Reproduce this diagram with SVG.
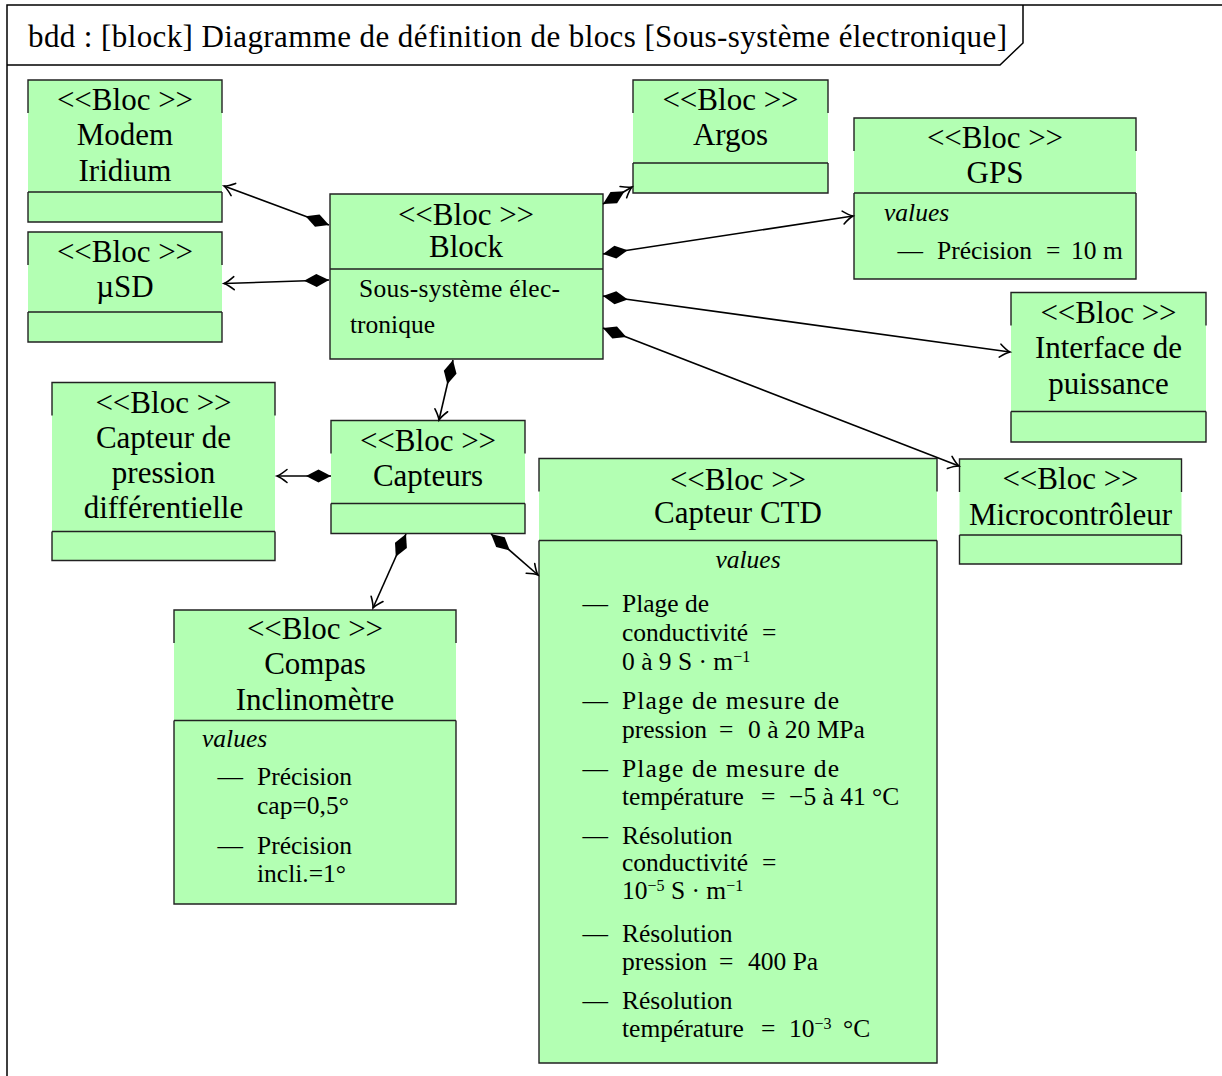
<svg xmlns="http://www.w3.org/2000/svg" width="1222" height="1076" viewBox="0 0 1222 1076">
<defs>
<style>
.fr{fill:none;stroke:#000;stroke-width:1.5}
.bg{fill:#b3ffb3;stroke:none}
.bd{fill:none;stroke:#222;stroke-width:1.4}
.t{font-family:"Liberation Serif",serif;font-size:31px;fill:#000;text-anchor:middle}
.a{font-family:"Liberation Serif",serif;font-size:25.5px;fill:#000}
.i{font-family:"Liberation Serif",serif;font-size:25.5px;font-style:italic;fill:#000}
.d{font-family:"Liberation Serif",serif;font-size:25.5px;fill:#000;text-anchor:end}
.sup{font-size:16px}
.c{fill:none;stroke:#000;stroke-width:1.6}
</style>
<marker id="dia" markerUnits="userSpaceOnUse" orient="auto" refX="0" refY="0" markerWidth="30" markerHeight="16" overflow="visible">
<path d="M0,0 L12.5,-6.5 L25,0 L12.5,6.5 Z" fill="#000"/>
</marker>
<marker id="arr" markerUnits="userSpaceOnUse" orient="auto" refX="0" refY="0" markerWidth="14" markerHeight="16" overflow="visible">
<path d="M-10,-6.5 Q-4,-1.5 0,0 Q-4,1.5 -10,6.5" fill="none" stroke="#000" stroke-width="1.6" stroke-linecap="round"/>
</marker>
</defs>
<rect x="0" y="0" width="1222" height="1076" fill="#fff"/>

<g id="frame">
<path class="fr" d="M7,1076 V5 H1222"/>
<path class="fr" d="M7,65 H1000 L1023,43 V5"/>
<text class="a" x="28" y="47" style="font-size:31px" textLength="979" lengthAdjust="spacing">bdd : [block] Diagramme de définition de blocs [Sous-système électronique]</text>
</g>

<g id="modem">
<rect class="bg" x="28" y="80" width="194" height="142"/>
<path class="bd" d="M28,113 V80 H222 V113 M28,192 H222 M28,192 V222 H222 V192"/>
<text class="t" x="125" y="109.5">&lt;&lt;Bloc &gt;&gt;</text>
<text class="t" x="125" y="145">Modem</text>
<text class="t" x="125" y="180.5">Iridium</text>
</g>

<g id="usd">
<rect class="bg" x="28" y="232" width="194" height="110"/>
<path class="bd" d="M28,265 V232 H222 V265 M28,312 H222 M28,312 V342 H222 V312"/>
<text class="t" x="125" y="262">&lt;&lt;Bloc &gt;&gt;</text>
<text class="t" x="125" y="297">µSD</text>
</g>

<g id="block">
<rect class="bg" x="330" y="194" width="273" height="165"/>
<path class="bd" d="M330,194 H603 V359 H330 Z M330,269 H603"/>
<text class="t" x="466" y="225">&lt;&lt;Bloc &gt;&gt;</text>
<text class="t" x="466" y="257">Block</text>
<text class="a" x="359" y="297" textLength="201" lengthAdjust="spacing">Sous-système élec-</text>
<text class="a" x="350" y="333">tronique</text>
</g>

<g id="argos">
<rect class="bg" x="633" y="80" width="195" height="113"/>
<path class="bd" d="M633,113 V80 H828 V113 M633,163 H828 M633,163 V193 H828 V163"/>
<text class="t" x="730.5" y="109.5">&lt;&lt;Bloc &gt;&gt;</text>
<text class="t" x="730.5" y="145">Argos</text>
</g>

<g id="gps">
<rect class="bg" x="854" y="118" width="282" height="161"/>
<path class="bd" d="M854,151 V118 H1136 V151 M854,193 H1136 M854,193 V279 H1136 V193"/>
<text class="t" x="995" y="148">&lt;&lt;Bloc &gt;&gt;</text>
<text class="t" x="995" y="183">GPS</text>
<text class="i" x="884" y="221">values</text>
<text class="d" x="923" y="259">—</text>
<text class="a" x="937" y="259">Précision<tspan x="1046">=</tspan><tspan x="1071">10 m</tspan></text>
</g>

<g id="interface">
<rect class="bg" x="1011" y="292.5" width="195" height="149.5"/>
<path class="bd" d="M1011,325.5 V292.5 H1206 V325.5 M1011,411.5 H1206 M1011,411.5 V442 H1206 V411.5"/>
<text class="t" x="1108.5" y="322.5">&lt;&lt;Bloc &gt;&gt;</text>
<text class="t" x="1108.5" y="358">Interface de</text>
<text class="t" x="1108.5" y="393.5">puissance</text>
</g>

<g id="micro">
<rect class="bg" x="959.5" y="459" width="222" height="105"/>
<path class="bd" d="M959.5,492 V459 H1181.5 V492 M959.5,535 H1181.5 M959.5,535 V564 H1181.5 V535"/>
<text class="t" x="1070.5" y="489">&lt;&lt;Bloc &gt;&gt;</text>
<text class="t" x="1070.5" y="524.5">Microcontrôleur</text>
</g>

<g id="pression">
<rect class="bg" x="52" y="382.5" width="223" height="178"/>
<path class="bd" d="M52,415.5 V382.5 H275 V415.5 M52,531.5 H275 M52,531.5 V560.5 H275 V531.5"/>
<text class="t" x="163.5" y="413">&lt;&lt;Bloc &gt;&gt;</text>
<text class="t" x="163.5" y="448">Capteur de</text>
<text class="t" x="163.5" y="483">pression</text>
<text class="t" x="163.5" y="518">différentielle</text>
</g>

<g id="capteurs">
<rect class="bg" x="331" y="420.5" width="194" height="113"/>
<path class="bd" d="M331,453.5 V420.5 H525 V453.5 M331,503.5 H525 M331,503.5 V533.5 H525 V503.5"/>
<text class="t" x="428" y="451">&lt;&lt;Bloc &gt;&gt;</text>
<text class="t" x="428" y="486">Capteurs</text>
</g>

<g id="ctd">
<rect class="bg" x="539" y="458.5" width="398" height="604.5"/>
<path class="bd" d="M539,491.5 V458.5 H937 V491.5 M539,540.5 H937 M539,540.5 V1063 H937 V540.5"/>
<text class="t" x="738" y="490">&lt;&lt;Bloc &gt;&gt;</text>
<text class="t" x="738" y="523">Capteur CTD</text>
<text class="i" x="748" y="568" text-anchor="middle">values</text>
<text class="d" x="608" y="611.5">—</text>
<text class="a" x="622" y="611.5">Plage de</text>
<text class="a" x="622" y="640.5">conductivité<tspan x="762">=</tspan></text>
<text class="a" x="622" y="669.5">0 à 9 S · m<tspan class="sup" dy="-8">−1</tspan></text>
<text class="d" x="608" y="708.5">—</text>
<text class="a" x="622" y="708.5" textLength="217" lengthAdjust="spacing">Plage de mesure de</text>
<text class="a" x="622" y="737.5">pression<tspan x="719">=</tspan><tspan x="748">0 à 20 MPa</tspan></text>
<text class="d" x="608" y="776.5">—</text>
<text class="a" x="622" y="776.5" textLength="217" lengthAdjust="spacing">Plage de mesure de</text>
<text class="a" x="622" y="805">température<tspan x="761">=</tspan><tspan x="789">−5 à 41 °C</tspan></text>
<text class="d" x="608" y="843.5">—</text>
<text class="a" x="622" y="843.5">Résolution</text>
<text class="a" x="622" y="870.5">conductivité<tspan x="762">=</tspan></text>
<text class="a" x="622" y="899">10<tspan class="sup" dy="-8">−5</tspan><tspan dy="8"> S · m</tspan><tspan class="sup" dy="-8">−1</tspan></text>
<text class="d" x="608" y="941.5">—</text>
<text class="a" x="622" y="941.5">Résolution</text>
<text class="a" x="622" y="970">pression<tspan x="719">=</tspan><tspan x="748">400 Pa</tspan></text>
<text class="d" x="608" y="1008.5">—</text>
<text class="a" x="622" y="1008.5">Résolution</text>
<text class="a" x="622" y="1036.5">température<tspan x="761">=</tspan><tspan x="789">10</tspan><tspan class="sup" dy="-8">−3</tspan><tspan x="843" dy="8">°C</tspan></text>
</g>

<g id="compas">
<rect class="bg" x="174" y="610" width="282" height="294"/>
<path class="bd" d="M174,643 V610 H456 V643 M174,720.5 H456 M174,720.5 V904 H456 V720.5"/>
<text class="t" x="315" y="638.5">&lt;&lt;Bloc &gt;&gt;</text>
<text class="t" x="315" y="674">Compas</text>
<text class="t" x="315" y="710">Inclinomètre</text>
<text class="i" x="202" y="747">values</text>
<text class="d" x="243" y="785">—</text>
<text class="a" x="257" y="785">Précision</text>
<text class="a" x="257" y="813.5">cap=0,5°</text>
<text class="d" x="243" y="853.5">—</text>
<text class="a" x="257" y="853.5">Précision</text>
<text class="a" x="257" y="882">incli.=1°</text>
</g>

<g id="connectors">
<path class="c" d="M329,225 L224,186" marker-start="url(#dia)" marker-end="url(#arr)"/>
<path class="c" d="M329,280 L224,283.5" marker-start="url(#dia)" marker-end="url(#arr)"/>
<path class="c" d="M603,204 L632,187" marker-start="url(#dia)" marker-end="url(#arr)"/>
<path class="c" d="M603,254 L853,216" marker-start="url(#dia)" marker-end="url(#arr)"/>
<path class="c" d="M603,296 L1010,352" marker-start="url(#dia)" marker-end="url(#arr)"/>
<path class="c" d="M603,328 L959,466" marker-start="url(#dia)" marker-end="url(#arr)"/>
<path class="c" d="M453,360 L439,420" marker-start="url(#dia)" marker-end="url(#arr)"/>
<path class="c" d="M331,476 L277,476" marker-start="url(#dia)" marker-end="url(#arr)"/>
<path class="c" d="M406,534 L373,608" marker-start="url(#dia)" marker-end="url(#arr)"/>
<path class="c" d="M491,534 L538,575" marker-start="url(#dia)" marker-end="url(#arr)"/>
</g>
</svg>
